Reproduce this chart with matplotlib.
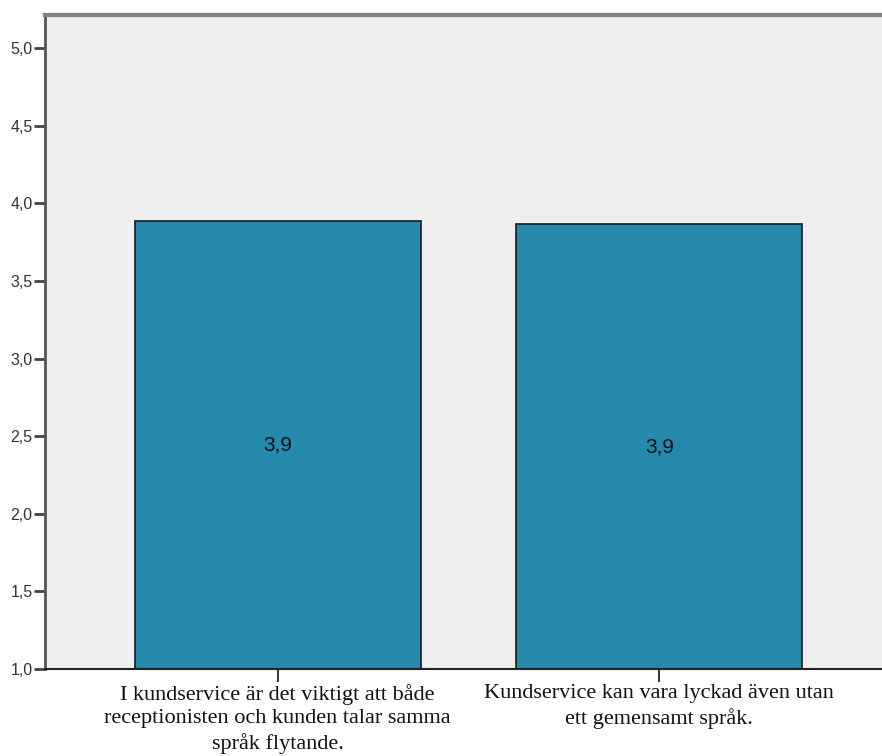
import matplotlib
matplotlib.use("Agg")
import matplotlib.pyplot as plt
from matplotlib.ticker import FuncFormatter

categories = [
    "I kundservice är det viktigt att både\nreceptionisten och kunden talar samma\nspråk flytande.",
    "Kundservice kan vara lyckad även utan\nett gemensamt språk.",
]
means = [3.886, 3.866]
yticks = [1.0, 1.5, 2.0, 2.5, 3.0, 3.5, 4.0, 4.5, 5.0]

W, H = 882, 756
fig = plt.figure(figsize=(W / 100, H / 100), dpi=100)
fig.patch.set_facecolor("white")

left, right, top, bottom = 45, 892, 15, 669
ax = fig.add_axes([left / W, (H - bottom) / H, (right - left) / W, (bottom - top) / H])
ax.set_facecolor("#EFEFEF")

x = list(range(len(categories)))
ax.bar(x, [m - 1.0 for m in means], bottom=1.0, width=0.75,
       color="#2589AB", edgecolor="#1a1a1a", linewidth=1.2, zorder=2)

for xi, m in zip(x, means):
    ax.text(xi, (1.0 + m) / 2, f"{m:.1f}".replace(".", ","), ha="center", va="center",
            fontsize=15, family="Liberation Sans", color="#111111", zorder=3)

ax.set_xlim(-0.61, 1.61)
ax.set_ylim(1.0, 5.213)
ax.set_yticks(yticks)
ax.yaxis.set_major_formatter(FuncFormatter(lambda v, p: f"{v:.1f}".replace(".", ",")))
ax.set_xticks(x)
ax.set_xticklabels(categories, family="Liberation Serif", fontsize=16,
                   linespacing=1.3, color="#111111")

ax.tick_params(axis="y", direction="out", length=8, width=2, color="#444444",
               labelsize=11.5, labelcolor="#333333", pad=1)
for lbl in ax.get_yticklabels():
    lbl.set_family("Liberation Sans")
ax.tick_params(axis="x", direction="out", length=9, width=1.3, color="#222222", pad=2)

ax.spines["right"].set_visible(False)
ax.spines["top"].set_color("#808080")
ax.spines["top"].set_linewidth(3)
ax.spines["left"].set_color("#555555")
ax.spines["left"].set_linewidth(2)
ax.spines["bottom"].set_color("#222222")
ax.spines["bottom"].set_linewidth(1.5)

fig.savefig("out.png", dpi=100, facecolor="white")
